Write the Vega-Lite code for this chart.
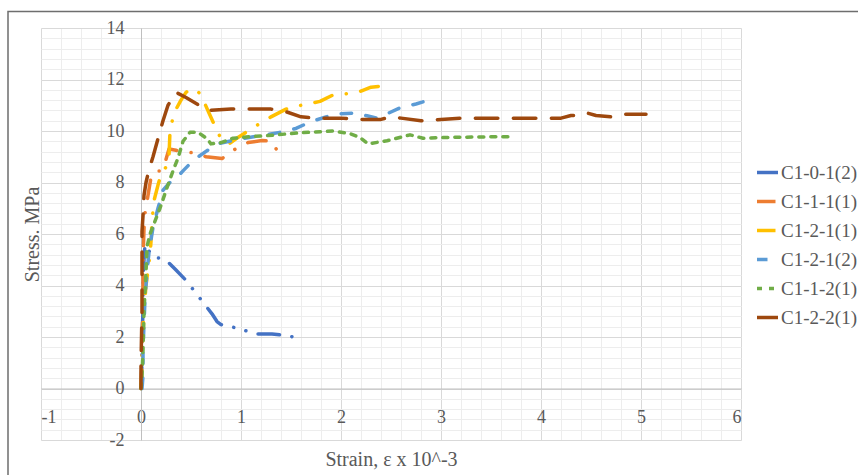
{
  "$schema": "https://vega.github.io/schema/vega-lite/v6.json",
  "width": 700,
  "height": 412,
  "autosize": {"type": "none"},
  "padding": {"left": 41, "top": 28, "right": 117, "bottom": 35},
  "background": "white",
  "config": {"view": {"stroke": null}, "font": "Liberation Serif", "axis": {"labelFont": "Liberation Serif", "titleFont": "Liberation Serif"}, "legend": {"labelFont": "Liberation Serif"}},
  "resolve": {"axis": {"x": "independent", "y": "independent"}},
  "layer": [
    {
      "data": {"values": [{"frame": "chart area"}]},
      "mark": {"type": "rect", "fillOpacity": 0, "stroke": "#6e6e6e", "strokeWidth": 1.5, "clip": false},
      "encoding": {
        "x": {"datum": -1.33, "type": "quantitative", "scale": {"domain": [-1, 6], "nice": false, "zero": false},
          "axis": {"orient": "top", "values": [-1,-0.8,-0.6,-0.4,-0.2,0,0.2,0.4,0.6,0.8,1,1.2,1.4,1.6,1.8,2,2.2,2.4,2.6,2.8,3,3.2,3.4,3.6,3.8,4,4.2,4.4,4.6,4.8,5,5.2,5.4,5.6,5.8,6],
            "grid": true, "gridColor": "#ededed", "gridWidth": 1, "labels": false, "ticks": false, "domain": false, "title": null}},
        "x2": {"datum": 8},
        "y": {"datum": 14.64, "type": "quantitative", "scale": {"domain": [-2, 14], "nice": false, "zero": false},
          "axis": {"orient": "right", "values": [-2,-1.6,-1.2,-0.8,-0.4,0,0.4,0.8,1.2,1.6,2,2.4,2.8,3.2,3.6,4,4.4,4.8,5.2,5.6,6,6.4,6.8,7.2,7.6,8,8.4,8.8,9.2,9.6,10,10.4,10.8,11.2,11.6,12,12.4,12.8,13.2,13.6,14],
            "grid": true, "gridColor": "#ededed", "gridWidth": 1, "labels": false, "ticks": false, "domain": false, "title": null}},
        "y2": {"datum": -5}
      }
    },
    {
      "data": {"values": [
        {"s":"C1-0-1(2)","i":1,"x":0,"y":0},{"s":"C1-0-1(2)","i":2,"x":0.01,"y":1},{"s":"C1-0-1(2)","i":3,"x":0.01,"y":2},{"s":"C1-0-1(2)","i":4,"x":0.02,"y":3},{"s":"C1-0-1(2)","i":5,"x":0.02,"y":4},{"s":"C1-0-1(2)","i":6,"x":0.03,"y":5},{"s":"C1-0-1(2)","i":7,"x":0.04,"y":5.6},{"s":"C1-0-1(2)","i":8,"x":0.07,"y":5.4},{"s":"C1-0-1(2)","i":9,"x":0.12,"y":5.1},{"s":"C1-0-1(2)","i":10,"x":0.2,"y":5.05},{"s":"C1-0-1(2)","i":11,"x":0.26,"y":4.95},{"s":"C1-0-1(2)","i":12,"x":0.35,"y":4.6},{"s":"C1-0-1(2)","i":13,"x":0.45,"y":4.2},{"s":"C1-0-1(2)","i":14,"x":0.53,"y":3.8},{"s":"C1-0-1(2)","i":15,"x":0.62,"y":3.35},{"s":"C1-0-1(2)","i":16,"x":0.71,"y":2.9},{"s":"C1-0-1(2)","i":17,"x":0.76,"y":2.6},{"s":"C1-0-1(2)","i":18,"x":0.8,"y":2.48},{"s":"C1-0-1(2)","i":19,"x":0.92,"y":2.38},{"s":"C1-0-1(2)","i":20,"x":1.04,"y":2.25},{"s":"C1-0-1(2)","i":21,"x":1.17,"y":2.12},{"s":"C1-0-1(2)","i":22,"x":1.31,"y":2.12},{"s":"C1-0-1(2)","i":23,"x":1.45,"y":2.06},{"s":"C1-0-1(2)","i":24,"x":1.56,"y":1.97},
        {"s":"C1-1-1(1)","i":1,"x":0,"y":0},{"s":"C1-1-1(1)","i":2,"x":0.01,"y":1},{"s":"C1-1-1(1)","i":3,"x":0.01,"y":2},{"s":"C1-1-1(1)","i":4,"x":0.02,"y":3},{"s":"C1-1-1(1)","i":5,"x":0.02,"y":4},{"s":"C1-1-1(1)","i":6,"x":0.02,"y":5},{"s":"C1-1-1(1)","i":7,"x":0.03,"y":6.2},{"s":"C1-1-1(1)","i":8,"x":0.04,"y":6.8},{"s":"C1-1-1(1)","i":9,"x":0.07,"y":7.5},{"s":"C1-1-1(1)","i":10,"x":0.1,"y":8.2},{"s":"C1-1-1(1)","i":11,"x":0.14,"y":8.45},{"s":"C1-1-1(1)","i":12,"x":0.2,"y":8.45},{"s":"C1-1-1(1)","i":13,"x":0.25,"y":8.9},{"s":"C1-1-1(1)","i":14,"x":0.28,"y":9.3},{"s":"C1-1-1(1)","i":15,"x":0.35,"y":9.25},{"s":"C1-1-1(1)","i":16,"x":0.46,"y":9.17},{"s":"C1-1-1(1)","i":17,"x":0.55,"y":9.15},{"s":"C1-1-1(1)","i":18,"x":0.65,"y":9.0},{"s":"C1-1-1(1)","i":19,"x":0.72,"y":8.97},{"s":"C1-1-1(1)","i":20,"x":0.81,"y":8.93},{"s":"C1-1-1(1)","i":21,"x":0.92,"y":9.25},{"s":"C1-1-1(1)","i":22,"x":1.07,"y":9.55},{"s":"C1-1-1(1)","i":23,"x":1.21,"y":9.63},{"s":"C1-1-1(1)","i":24,"x":1.31,"y":9.6},{"s":"C1-1-1(1)","i":25,"x":1.37,"y":9.17},
        {"s":"C1-2-1(1)","i":1,"x":0,"y":0},{"s":"C1-2-1(1)","i":2,"x":0.01,"y":1},{"s":"C1-2-1(1)","i":3,"x":0.02,"y":2},{"s":"C1-2-1(1)","i":4,"x":0.03,"y":3},{"s":"C1-2-1(1)","i":5,"x":0.05,"y":4},{"s":"C1-2-1(1)","i":6,"x":0.07,"y":4.6},{"s":"C1-2-1(1)","i":7,"x":0.09,"y":5.2},{"s":"C1-2-1(1)","i":8,"x":0.1,"y":5.7},{"s":"C1-2-1(1)","i":9,"x":0.11,"y":6.5},{"s":"C1-2-1(1)","i":10,"x":0.13,"y":7.3},{"s":"C1-2-1(1)","i":11,"x":0.17,"y":7.9},{"s":"C1-2-1(1)","i":12,"x":0.2,"y":8.3},{"s":"C1-2-1(1)","i":13,"x":0.25,"y":8.6},{"s":"C1-2-1(1)","i":14,"x":0.28,"y":9.0},{"s":"C1-2-1(1)","i":15,"x":0.29,"y":10.0},{"s":"C1-2-1(1)","i":16,"x":0.33,"y":10.7},{"s":"C1-2-1(1)","i":17,"x":0.4,"y":11.2},{"s":"C1-2-1(1)","i":18,"x":0.45,"y":11.5},{"s":"C1-2-1(1)","i":19,"x":0.5,"y":11.65},{"s":"C1-2-1(1)","i":20,"x":0.56,"y":11.57},{"s":"C1-2-1(1)","i":21,"x":0.6,"y":11.4},{"s":"C1-2-1(1)","i":22,"x":0.68,"y":10.7},{"s":"C1-2-1(1)","i":23,"x":0.75,"y":10.1},{"s":"C1-2-1(1)","i":24,"x":0.8,"y":9.7},{"s":"C1-2-1(1)","i":25,"x":0.88,"y":9.5},{"s":"C1-2-1(1)","i":26,"x":0.95,"y":9.7},{"s":"C1-2-1(1)","i":27,"x":1.05,"y":9.95},{"s":"C1-2-1(1)","i":28,"x":1.15,"y":10.2},{"s":"C1-2-1(1)","i":29,"x":1.3,"y":10.55},{"s":"C1-2-1(1)","i":30,"x":1.45,"y":10.85},{"s":"C1-2-1(1)","i":31,"x":1.6,"y":11.0},{"s":"C1-2-1(1)","i":32,"x":1.79,"y":11.15},{"s":"C1-2-1(1)","i":33,"x":1.92,"y":11.4},{"s":"C1-2-1(1)","i":34,"x":2.06,"y":11.45},{"s":"C1-2-1(1)","i":35,"x":2.2,"y":11.55},{"s":"C1-2-1(1)","i":36,"x":2.3,"y":11.7},{"s":"C1-2-1(1)","i":37,"x":2.42,"y":11.75},
        {"s":"C1-2-1(2)","i":1,"x":0.01,"y":0},{"s":"C1-2-1(2)","i":2,"x":0.02,"y":0.5},{"s":"C1-2-1(2)","i":3,"x":0.02,"y":1.5},{"s":"C1-2-1(2)","i":4,"x":0.03,"y":2.5},{"s":"C1-2-1(2)","i":5,"x":0.04,"y":3.5},{"s":"C1-2-1(2)","i":6,"x":0.06,"y":4.5},{"s":"C1-2-1(2)","i":7,"x":0.08,"y":5.3},{"s":"C1-2-1(2)","i":8,"x":0.12,"y":6.25},{"s":"C1-2-1(2)","i":9,"x":0.17,"y":7.0},{"s":"C1-2-1(2)","i":10,"x":0.22,"y":7.7},{"s":"C1-2-1(2)","i":11,"x":0.3,"y":8.05},{"s":"C1-2-1(2)","i":12,"x":0.36,"y":8.2},{"s":"C1-2-1(2)","i":13,"x":0.42,"y":8.45},{"s":"C1-2-1(2)","i":14,"x":0.52,"y":8.85},{"s":"C1-2-1(2)","i":15,"x":0.61,"y":9.1},{"s":"C1-2-1(2)","i":16,"x":0.76,"y":9.5},{"s":"C1-2-1(2)","i":17,"x":1.0,"y":9.7},{"s":"C1-2-1(2)","i":18,"x":1.2,"y":9.82},{"s":"C1-2-1(2)","i":19,"x":1.39,"y":9.95},{"s":"C1-2-1(2)","i":20,"x":1.55,"y":10.1},{"s":"C1-2-1(2)","i":21,"x":1.69,"y":10.35},{"s":"C1-2-1(2)","i":22,"x":1.85,"y":10.55},{"s":"C1-2-1(2)","i":23,"x":1.99,"y":10.67},{"s":"C1-2-1(2)","i":24,"x":2.16,"y":10.7},{"s":"C1-2-1(2)","i":25,"x":2.25,"y":10.6},{"s":"C1-2-1(2)","i":26,"x":2.36,"y":10.5},{"s":"C1-2-1(2)","i":27,"x":2.45,"y":10.65},{"s":"C1-2-1(2)","i":28,"x":2.59,"y":10.9},{"s":"C1-2-1(2)","i":29,"x":2.75,"y":11.05},{"s":"C1-2-1(2)","i":30,"x":2.92,"y":11.25},
        {"s":"C1-1-2(1)","i":1,"x":0,"y":0},{"s":"C1-1-2(1)","i":2,"x":0.01,"y":0.5},{"s":"C1-1-2(1)","i":3,"x":0.02,"y":1.5},{"s":"C1-1-2(1)","i":4,"x":0.03,"y":3},{"s":"C1-1-2(1)","i":5,"x":0.05,"y":4.5},{"s":"C1-1-2(1)","i":6,"x":0.06,"y":5.5},{"s":"C1-1-2(1)","i":7,"x":0.09,"y":6.0},{"s":"C1-1-2(1)","i":8,"x":0.14,"y":6.5},{"s":"C1-1-2(1)","i":9,"x":0.19,"y":7.0},{"s":"C1-1-2(1)","i":10,"x":0.26,"y":7.8},{"s":"C1-1-2(1)","i":11,"x":0.32,"y":8.45},{"s":"C1-1-2(1)","i":12,"x":0.37,"y":8.95},{"s":"C1-1-2(1)","i":13,"x":0.42,"y":9.6},{"s":"C1-1-2(1)","i":14,"x":0.49,"y":9.95},{"s":"C1-1-2(1)","i":15,"x":0.57,"y":9.95},{"s":"C1-1-2(1)","i":16,"x":0.66,"y":9.7},{"s":"C1-1-2(1)","i":17,"x":0.7,"y":9.5},{"s":"C1-1-2(1)","i":18,"x":0.8,"y":9.55},{"s":"C1-1-2(1)","i":19,"x":0.92,"y":9.72},{"s":"C1-1-2(1)","i":20,"x":1.1,"y":9.78},{"s":"C1-1-2(1)","i":21,"x":1.26,"y":9.82},{"s":"C1-1-2(1)","i":22,"x":1.59,"y":9.93},{"s":"C1-1-2(1)","i":23,"x":1.92,"y":10.0},{"s":"C1-1-2(1)","i":24,"x":2.09,"y":9.9},{"s":"C1-1-2(1)","i":25,"x":2.19,"y":9.75},{"s":"C1-1-2(1)","i":26,"x":2.27,"y":9.5},{"s":"C1-1-2(1)","i":27,"x":2.46,"y":9.62},{"s":"C1-1-2(1)","i":28,"x":2.69,"y":9.85},{"s":"C1-1-2(1)","i":29,"x":2.82,"y":9.72},{"s":"C1-1-2(1)","i":30,"x":3.06,"y":9.75},{"s":"C1-1-2(1)","i":31,"x":3.4,"y":9.77},{"s":"C1-1-2(1)","i":32,"x":3.69,"y":9.78},
        {"s":"C1-2-2(1)","i":1,"x":0,"y":0},{"s":"C1-2-2(1)","i":2,"x":0,"y":1},{"s":"C1-2-2(1)","i":3,"x":0.005,"y":2},{"s":"C1-2-2(1)","i":4,"x":0.01,"y":3},{"s":"C1-2-2(1)","i":5,"x":0.01,"y":4},{"s":"C1-2-2(1)","i":6,"x":0.01,"y":5},{"s":"C1-2-2(1)","i":7,"x":0.01,"y":6.1},{"s":"C1-2-2(1)","i":8,"x":0.02,"y":6.7},{"s":"C1-2-2(1)","i":9,"x":0.03,"y":7.5},{"s":"C1-2-2(1)","i":10,"x":0.05,"y":8.0},{"s":"C1-2-2(1)","i":11,"x":0.08,"y":8.5},{"s":"C1-2-2(1)","i":12,"x":0.12,"y":9.0},{"s":"C1-2-2(1)","i":13,"x":0.17,"y":9.7},{"s":"C1-2-2(1)","i":14,"x":0.22,"y":10.4},{"s":"C1-2-2(1)","i":15,"x":0.27,"y":11.0},{"s":"C1-2-2(1)","i":16,"x":0.35,"y":11.5},{"s":"C1-2-2(1)","i":17,"x":0.45,"y":11.3},{"s":"C1-2-2(1)","i":18,"x":0.56,"y":11.05},{"s":"C1-2-2(1)","i":19,"x":0.65,"y":10.8},{"s":"C1-2-2(1)","i":20,"x":0.9,"y":10.85},{"s":"C1-2-2(1)","i":21,"x":1.1,"y":10.85},{"s":"C1-2-2(1)","i":22,"x":1.3,"y":10.85},{"s":"C1-2-2(1)","i":23,"x":1.45,"y":10.75},{"s":"C1-2-2(1)","i":24,"x":1.6,"y":10.55},{"s":"C1-2-2(1)","i":25,"x":1.75,"y":10.5},{"s":"C1-2-2(1)","i":26,"x":2.0,"y":10.5},{"s":"C1-2-2(1)","i":27,"x":2.2,"y":10.45},{"s":"C1-2-2(1)","i":28,"x":2.4,"y":10.45},{"s":"C1-2-2(1)","i":29,"x":2.5,"y":10.55},{"s":"C1-2-2(1)","i":30,"x":2.6,"y":10.5},{"s":"C1-2-2(1)","i":31,"x":2.8,"y":10.4},{"s":"C1-2-2(1)","i":32,"x":3.0,"y":10.45},{"s":"C1-2-2(1)","i":33,"x":3.2,"y":10.5},{"s":"C1-2-2(1)","i":34,"x":3.5,"y":10.5},{"s":"C1-2-2(1)","i":35,"x":3.9,"y":10.5},{"s":"C1-2-2(1)","i":36,"x":4.2,"y":10.5},{"s":"C1-2-2(1)","i":37,"x":4.3,"y":10.6},{"s":"C1-2-2(1)","i":38,"x":4.4,"y":10.6},{"s":"C1-2-2(1)","i":39,"x":4.46,"y":10.7},{"s":"C1-2-2(1)","i":40,"x":4.55,"y":10.6},{"s":"C1-2-2(1)","i":41,"x":4.7,"y":10.55},{"s":"C1-2-2(1)","i":42,"x":4.8,"y":10.65},{"s":"C1-2-2(1)","i":43,"x":5.05,"y":10.65}
      ]},
      "mark": {"type": "line", "strokeWidth": 3.5, "strokeCap": "round", "strokeJoin": "round"},
      "encoding": {
        "x": {"field": "x", "type": "quantitative", "scale": {"domain": [-1, 6], "nice": false, "zero": false},
          "axis": {"orient": "bottom", "offset": -51.5, "values": [-1,0,1,2,3,4,5,6], "labelExpr": "'' + datum.value", "grid": true, "gridColor": "#d9d9d9", "gridWidth": 1,
            "domain": true, "domainColor": "#bfbfbf", "domainWidth": 1, "ticks": false, "tickSize": 0, "labelPadding": 20,
            "labelFont": "Liberation Serif", "labelFontSize": 18, "labelColor": "#595959", "labelBaseline": "top",
            "title": "Strain, ε x 10^-3", "titleFont": "Liberation Serif", "titleFontSize": 20, "titleFontWeight": "normal", "titleColor": "#595959",
            "titleX": 350, "titleY": 77, "titleBaseline": "alphabetic", "titleAlign": "center"}},
        "y": {"field": "y", "type": "quantitative", "scale": {"domain": [-2, 14], "nice": false, "zero": false},
          "axis": {"orient": "left", "offset": -100, "values": [-2,0,2,4,6,8,10,12,14], "labelExpr": "'' + datum.value", "grid": true, "gridColor": "#d9d9d9", "gridWidth": 1,
            "domain": true, "domainColor": "#bfbfbf", "domainWidth": 1, "ticks": false, "tickSize": 0, "labelPadding": 17,
            "labelFont": "Liberation Serif", "labelFontSize": 18, "labelColor": "#595959",
            "title": "Stress. MPa", "titleFont": "Liberation Serif", "titleFontSize": 20, "titleFontWeight": "normal", "titleColor": "#595959",
            "titleX": -103, "titleY": 206, "titleAngle": -90, "titleBaseline": "alphabetic", "titleAlign": "center"}},
        "color": {"field": "s", "type": "nominal",
          "scale": {"domain": ["C1-0-1(2)","C1-1-1(1)","C1-2-1(1)","C1-2-1(2)","C1-1-2(1)","C1-2-2(1)"],
            "range": ["#4472C4","#ED7D31","#FFC000","#5B9BD5","#70AD47","#9E480E"]},
          "legend": {"orient": "none", "legendX": 714, "legendY": 132, "title": null, "padding": 0,
            "labelFont": "Liberation Serif", "labelFontSize": 19, "labelColor": "#595959", "labelLimit": 300, "labelOffset": 1,
            "symbolType": "stroke", "symbolSize": 441, "symbolStrokeWidth": 3.5, "rowPadding": 6}},
        "strokeDash": {"field": "s", "type": "nominal",
          "scale": {"domain": ["C1-0-1(2)","C1-1-1(1)","C1-2-1(1)","C1-2-1(2)","C1-1-2(1)","C1-2-2(1)"],
            "range": [[21.5,12.5,0.1,12.5,0.1,12.5],[18.5,14.5,0.1,14.5],[18.5,14.5,0.1,14.5],[10.5,14.5],[5,7],[22.5,15.5]]},
          "legend": {"orient": "none", "legendX": 714, "legendY": 132, "title": null, "padding": 0,
            "labelFont": "Liberation Serif", "labelFontSize": 19, "labelColor": "#595959", "labelLimit": 300, "labelOffset": 1,
            "symbolType": "stroke", "symbolSize": 441, "symbolStrokeWidth": 3.5, "rowPadding": 6}},
        "order": {"field": "i", "type": "quantitative"}
      }
    }
  ]
}
